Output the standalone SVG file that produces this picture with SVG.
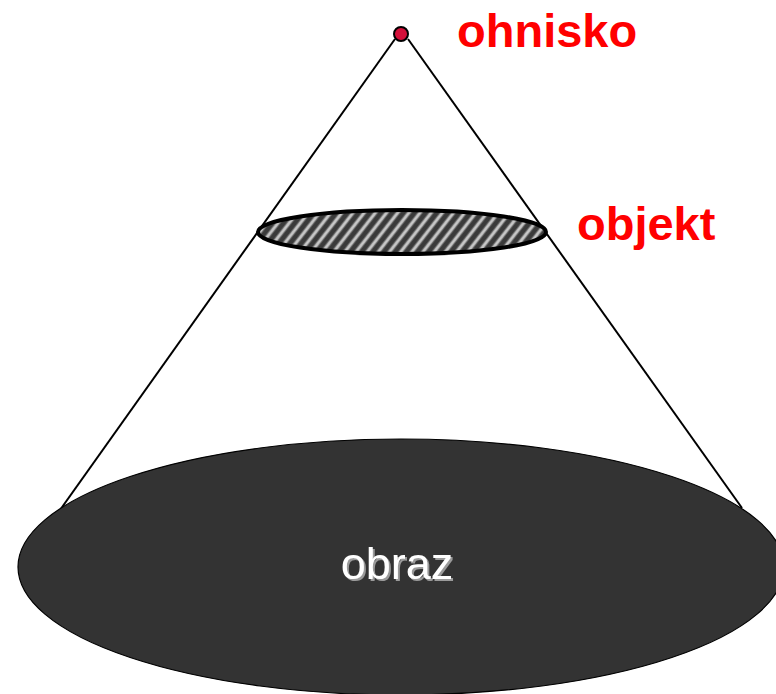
<svg xmlns="http://www.w3.org/2000/svg" width="776" height="694" viewBox="0 0 776 694">
  <style>
    .ray { stroke: #000; stroke-width: 2; fill: none; }
    .label { font-family: "Liberation Sans", Arial, sans-serif; font-weight: bold; fill: #ff0000; font-size: 47px; }
    .imgtext { font-family: "Liberation Sans", Arial, sans-serif; font-size: 45px; fill: #ffffff; }
  </style>
  <defs>
    <!-- soft-edged light stripe across one pattern tile -->
    <linearGradient id="stripeGrad" x1="0" y1="0" x2="1" y2="0">
      <stop offset="0" stop-color="#3a3a3a"/>
      <stop offset="0.22" stop-color="#3a3a3a"/>
      <stop offset="0.42" stop-color="#cccccc"/>
      <stop offset="0.58" stop-color="#cccccc"/>
      <stop offset="0.78" stop-color="#3a3a3a"/>
      <stop offset="1" stop-color="#3a3a3a"/>
    </linearGradient>
    <pattern id="hatch" patternUnits="userSpaceOnUse" width="8.8" height="40" patternTransform="rotate(38)">
      <rect x="0" y="0" width="8.8" height="40" fill="url(#stripeGrad)"/>
    </pattern>
    <filter id="textShadow" x="-10%" y="-10%" width="130%" height="130%">
      <feDropShadow dx="2" dy="2" stdDeviation="0.4" flood-color="#9a9a9a" flood-opacity="1"/>
    </filter>
  </defs>

  <!-- light cone edges from the focus -->
  <g id="connectors">
    <line class="ray" x1="395" y1="39" x2="60" y2="510"/>
    <line class="ray" x1="408" y1="39" x2="742" y2="508"/>
  </g>

  <g id="image">
    <ellipse cx="401" cy="567" rx="383" ry="128" fill="#333333" stroke="#000" stroke-width="1.2"/>
    <text class="imgtext" x="397" y="579" text-anchor="middle" filter="url(#textShadow)">obraz</text>
  </g>

  <g id="object">
    <ellipse cx="402" cy="232" rx="144" ry="22" fill="url(#hatch)" stroke="#000" stroke-width="4"/>
    <text class="label" x="577" y="240">objekt</text>
  </g>

  <g id="focus">
    <circle cx="401" cy="34" r="7" fill="#d4103a" stroke="#000" stroke-width="2"/>
    <text class="label" x="457" y="47">ohnisko</text>
  </g>
</svg>
